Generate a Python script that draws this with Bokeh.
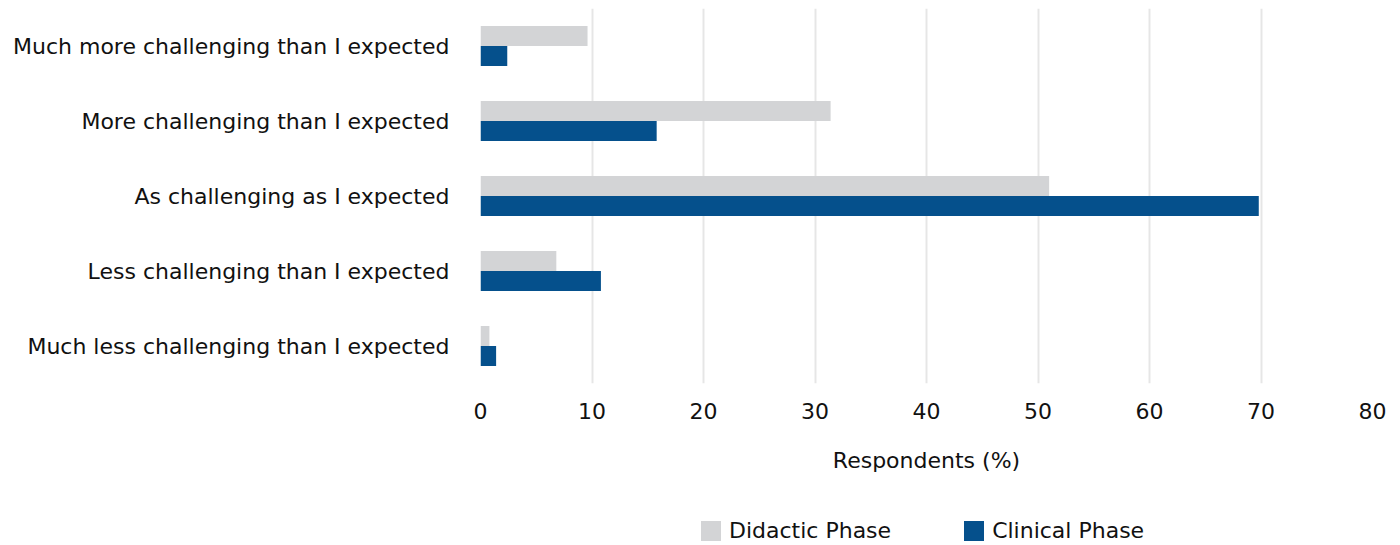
from bokeh.plotting import figure
from bokeh.models import FactorRange, Range1d, Legend, LegendItem, ColumnDataSource
from bokeh.layouts import column
from bokeh.transform import dodge
from bokeh.embed import file_html
from bokeh.resources import INLINE

categories = [
    "Much more challenging than I expected",
    "More challenging than I expected",
    "As challenging as I expected",
    "Less challenging than I expected",
    "Much less challenging than I expected",
]
didactic = [9.6, 31.4, 51.0, 6.8, 0.8]
clinical = [2.4, 15.8, 69.8, 10.8, 1.4]
series_names = ["Didactic Phase", "Clinical Phase"]
x_ticks = [0, 10, 20, 30, 40, 50, 60, 70, 80]

FONT = "DejaVu Sans"
FS = "22px"
TEXT = "#111111"
C_DID = "#d3d4d6"
C_CLI = "#05508c"

src = ColumnDataSource(dict(cat=categories, did=didactic, cli=clinical))

p = figure(
    width=1400, height=485,
    y_range=FactorRange(*categories[::-1]),
    x_range=Range1d(0, 80),
    output_backend="svg", toolbar_location=None,
    min_border_left=480, min_border_right=28, min_border_top=8, min_border_bottom=102,
)
p.outline_line_color = None

bw = 0.267
p.hbar(y=dodge("cat", bw / 2, range=p.y_range), right="did", left=0, height=bw,
       source=src, fill_color=C_DID, line_color=None)
p.hbar(y=dodge("cat", -bw / 2, range=p.y_range), right="cli", left=0, height=bw,
       source=src, fill_color=C_CLI, line_color=None)

p.xaxis.ticker = x_ticks
p.xaxis.axis_label = "Respondents (%)"
p.xaxis.axis_line_color = None
p.xaxis.major_tick_line_color = None
p.xaxis.minor_tick_line_color = None
p.xaxis.major_label_standoff = 13
p.xaxis.axis_label_standoff = 26
p.xaxis.major_label_text_font = FONT
p.xaxis.major_label_text_font_size = FS
p.xaxis.major_label_text_color = TEXT
p.xaxis.axis_label_text_font = FONT
p.xaxis.axis_label_text_font_size = FS
p.xaxis.axis_label_text_font_style = "normal"
p.xaxis.axis_label_text_color = TEXT

p.yaxis.axis_line_color = None
p.yaxis.major_tick_line_color = None
p.yaxis.minor_tick_line_color = None
p.yaxis.major_label_standoff = 25
p.yaxis.major_label_text_font = FONT
p.yaxis.major_label_text_font_size = FS
p.yaxis.major_label_text_color = TEXT

p.ygrid.grid_line_color = None
p.xgrid.grid_line_color = "#e6e6e6"
p.xgrid.grid_line_width = 2

# legend strip below the chart (frames are aligned with the chart above)
lg = figure(width=1400, height=60, x_range=Range1d(0, 1), y_range=Range1d(0, 1),
            output_backend="svg", toolbar_location=None,
            x_axis_location=None, y_axis_location=None,
            min_border_left=480, min_border_right=28, min_border_top=0, min_border_bottom=0)
lg.grid.grid_line_color = None
lg.outline_line_color = None
offscreen = ColumnDataSource(dict(y=[-5], r=[0]))
g1 = lg.hbar(y="y", right="r", left=0, height=0.1, source=offscreen, fill_color=C_DID, line_color=None)
g2 = lg.hbar(y="y", right="r", left=0, height=0.1, source=offscreen, fill_color=C_CLI, line_color=None)
legend = Legend(
    items=[LegendItem(label=series_names[0], renderers=[g1]),
           LegendItem(label=series_names[1], renderers=[g2])],
    orientation="horizontal",
    location=(218, 2),
    glyph_width=25, glyph_height=25,
    label_text_font=FONT, label_text_font_size=FS, label_text_color=TEXT,
    spacing=70, padding=0, margin=0, border_line_color=None, background_fill_alpha=0,
    label_standoff=6,
)
lg.add_layout(legend, "center")

open("out.html", "w").write(file_html(column(p, lg, spacing=0), INLINE))
